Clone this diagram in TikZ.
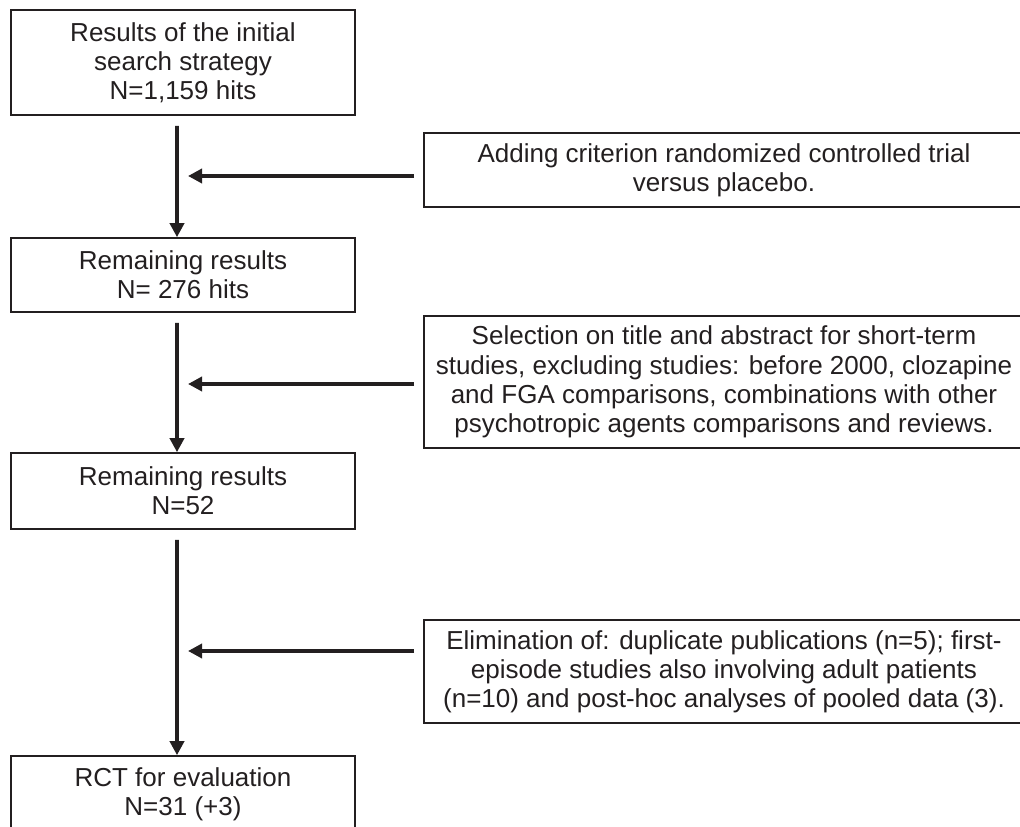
\documentclass[tikz,border=0pt]{standalone}
\usepackage{fontspec}
\setmainfont{Liberation Sans}
\usetikzlibrary{arrows.meta}
\definecolor{flowgrey}{RGB}{35,31,32}

\begin{document}
\begin{tikzpicture}[x=0.2mm, y=-0.2mm, draw=flowgrey,
    box/.style={draw=flowgrey, line width=0.9pt, align=center, inner sep=0pt,
      text=flowgrey, font=\fontsize{14.8}{16.6}\selectfont},
    arr/.style={draw=flowgrey, line width=2.2pt,
      -{Triangle[length=2.8mm, width=2.8mm]}}]
        \useasboundingbox (0,0) rectangle (1020,827);
        \clip (0,0) rectangle (1020,827);

        % main column
        \node[box, minimum width=68.8mm, minimum height=21mm] (res1) at (183,62.5)
          {Results of the initial\\search strategy\\N=1,159 hits};
        \node[box, minimum width=68.8mm, minimum height=14.8mm] (res2) at (183,275)
          {Remaining results\\N= 276 hits};
        \node[box, minimum width=68.8mm, minimum height=15.2mm] (res3) at (183,491)
          {Remaining results\\N=52};
        \node[box, minimum width=68.8mm, minimum height=15.2mm] (rct) at (183,794)
          {RCT for evaluation\\N=31 (+3)};

        % criteria on the right
        \node[box, minimum width=120mm, minimum height=14.8mm] (crit1) at (724,170)
          {Adding criterion randomized controlled trial\\versus placebo.};
        \node[box, minimum width=120mm, minimum height=26.4mm] (crit2) at (724,382)
          {Selection on title and abstract for short-term\\studies, excluding studies: before 2000, clozapine\\and FGA comparisons, combinations with other\\psychotropic agents comparisons and reviews.};
        \node[box, minimum width=120mm, minimum height=20.6mm] (crit3) at (724,671.5)
          {Elimination of: duplicate publications (n=5); first-\\episode studies also involving adult patients\\(n=10) and post-hoc analyses of pooled data (3).};

        \coordinate (in1) at (414,176);
        \coordinate (in2) at (414,384);
        \coordinate (in3) at (414,651);
        \coordinate (tip1) at (188,176);
        \coordinate (tip2) at (188,384);
        \coordinate (tip3) at (188,651);

        \draw[arr] ([shift={(-6,10)}]res1.south) -- ([xshift=-1.2mm]res2.north);
        \draw[arr] ([shift={(-6,10)}]res2.south) -- ([xshift=-1.2mm]res3.north);
        \draw[arr] ([shift={(-6,10)}]res3.south) -- ([xshift=-1.2mm]rct.north);

        \draw[arr] (in1) -- (tip1);
        \draw[arr] (in2) -- (tip2);
        \draw[arr] (in3) -- (tip3);
      \end{tikzpicture}
\end{document}
